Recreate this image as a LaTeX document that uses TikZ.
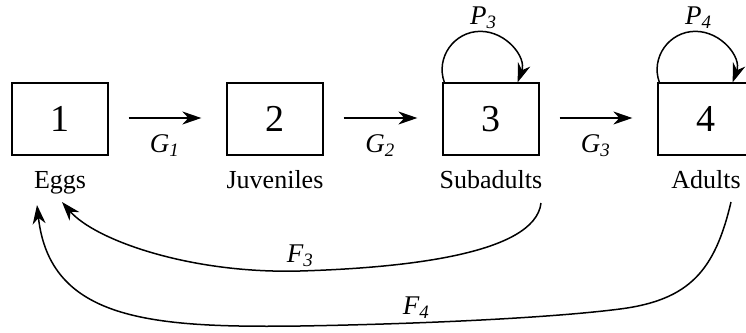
\documentclass[tikz,border=0pt]{standalone}
\usepackage{fontspec}
\setmainfont{Liberation Serif}
\usetikzlibrary{arrows.meta}
\usetikzlibrary{positioning}

\tikzset{
    stage/.style={draw, line width=1.3pt, minimum width=96pt, minimum height=72pt, inner sep=0pt, font=\fontsize{38}{40}\selectfont},
    stagename/.style={anchor=base, font=\fontsize{26}{28}\selectfont},
    rate/.style={font=\fontsize{27}{30}\selectfont\itshape},
    flow/.style={-{Stealth[length=19pt, width=13pt, inset=6pt]}, line width=1.5pt},
}

\begin{document}
\begin{tikzpicture}[x=1pt, y=-1pt]
    % 1. Fix the frame of the picture
    \useasboundingbox (0,0) rectangle (746,332);

    % 2. Draw the four stages with their names below
    \foreach \i/\x/\name in {1/60/Eggs, 2/275/Juveniles, 3/491/Subadults, 4/706/Adults} {
        \node[stage] (b\i) at (\x,119) {\i};
        \node[stagename] (l\i) at (\x,188) {\name};
    }

    % 3. Growth from one stage to the next
    \foreach \i/\j in {1/2, 2/3, 3/4} {
        \draw[flow, shorten <=20pt, shorten >=25pt] ([yshift=1pt]b\i.east) -- ([yshift=1pt]b\j.west)
            node[rate, midway, below=13pt, xshift=-3pt] {G\textsubscript{\i}};
    }

    % 4. Staying in the same stage
    \foreach \i in {3, 4} {
        \draw[flow] ([xshift=2pt]b\i.north west) .. controls +(-9,-25) and +(-26,0) .. ++(36,-51)
            node[rate, above=-1pt, xshift=3pt] {P\textsubscript{\i}}
            .. controls +(26,0) and +(9,-25) .. ([xshift=-22pt]b\i.north east);
    }

    % 5. Fecundity back to the eggs
    \draw[flow] ([shift={(50,15)}]l3.base) .. controls (535,255) and (400,268) .. (300,271)
        node[rate, above=0pt] {F\textsubscript{3}}
        .. controls (190,274) and (95,240) .. ([shift={(2,14)}]l1.base);
    \draw[flow] ([shift={(25,14)}]l4.base) .. controls (715,270) and (690,300) .. (620,309)
        .. controls (550,318) and (420,324) .. (300,326) node[rate, pos=0.68, above=0pt] {F\textsubscript{4}}
        .. controls (150,328) and (50,320) .. ([shift={(-23,17)}]l1.base);
\end{tikzpicture}
\end{document}
